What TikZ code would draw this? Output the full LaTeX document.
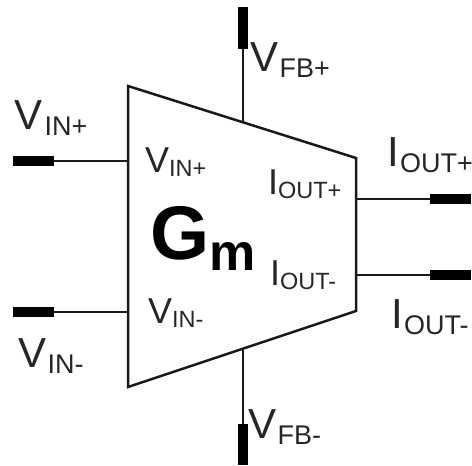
\documentclass[tikz,border=0pt]{standalone}
\usepackage{fontspec}
\setmainfont{Liberation Sans}
\newcommand{\sublab}[2]{\fontsize{36}{36}\selectfont #1\fontsize{23.5}{24}\selectfont\raisebox{-4.5pt}{#2}}
\newcommand{\sublabo}[2]{\fontsize{42}{42}\selectfont #1\kern1.5pt\fontsize{27}{27}\selectfont\raisebox{-6.5pt}{#2}}
\begin{document}
\begin{tikzpicture}[x=1pt,y=-1pt,
  wire/.style={line width=2pt,black!90},
  pin/.style={line width=10pt,black},
  lab/.style={inner sep=0pt,outer sep=0pt,anchor=base west,text=black!85}]
\useasboundingbox (0,0) rectangle (472,466);
\coordinate (A) at (128,86);
\coordinate (B) at (356,158);
\coordinate (C) at (356,311);
\coordinate (D) at (128,387);
\draw[line width=2.5pt,black!90] (A)--(B)--(C)--(D)--cycle;
\coordinate (t1) at (242.5,7); \coordinate (t2) at (242.5,49); \coordinate (t3) at (242.5,122);
\draw[wire] (t2)--(t3); \draw[pin] (t1)--(t2);
\coordinate (b1) at (242.5,465); \coordinate (b2) at (242.5,424); \coordinate (b3) at (242.5,350);
\draw[wire] (b2)--(b3); \draw[pin] (b1)--(b2);
\coordinate (l1) at (13,161); \coordinate (l2) at (54,161); \coordinate (l3) at (128,161);
\draw[wire] (l2)--(l3); \draw[pin] (l1)--(l2);
\coordinate (m1) at (13,312); \coordinate (m2) at (54,312); \coordinate (m3) at (128,312);
\draw[wire] (m2)--(m3); \draw[pin] (m1)--(m2);
\coordinate (r1) at (471,198.5); \coordinate (r2) at (430,198.5); \coordinate (r3) at (356,198.5);
\draw[wire] (r2)--(r3); \draw[pin] (r1)--(r2);
\coordinate (s1) at (471,274.5); \coordinate (s2) at (430,274.5); \coordinate (s3) at (356,274.5);
\draw[wire] (s2)--(s3); \draw[pin] (s1)--(s2);
\node[lab] (fbp) at (250,71) {\sublabo{V}{FB+}};
\node[lab] (fbm) at (248,438) {\sublabo{V}{FB-}};
\node[lab] (inpo) at (15,129) {\sublabo{V}{IN+}};
\node[lab] (inmo) at (18,367) {\sublabo{V}{IN-}};
\node[lab] (outpo) at (387,166) {\sublabo{I}{OUT+}};
\node[lab] (outmo) at (391,328) {\sublabo{I}{OUT-}};
\node[lab] (inpi) at (145,172) {\sublab{V}{IN+}};
\node[lab] (inmi) at (148,323) {\sublab{V}{IN-}};
\node[lab] (outpi) at (268,194) {\sublab{I}{OUT+}};
\node[lab] (outmi) at (270,285) {\sublab{I}{OUT-}};
\node[inner sep=0pt,outer sep=0pt,anchor=base west,font=\bfseries] (g) at (150,259) {\fontsize{76}{76}\selectfont G\fontsize{52}{52}\selectfont\raisebox{-11pt}{m}};
\end{tikzpicture}
\end{document}
